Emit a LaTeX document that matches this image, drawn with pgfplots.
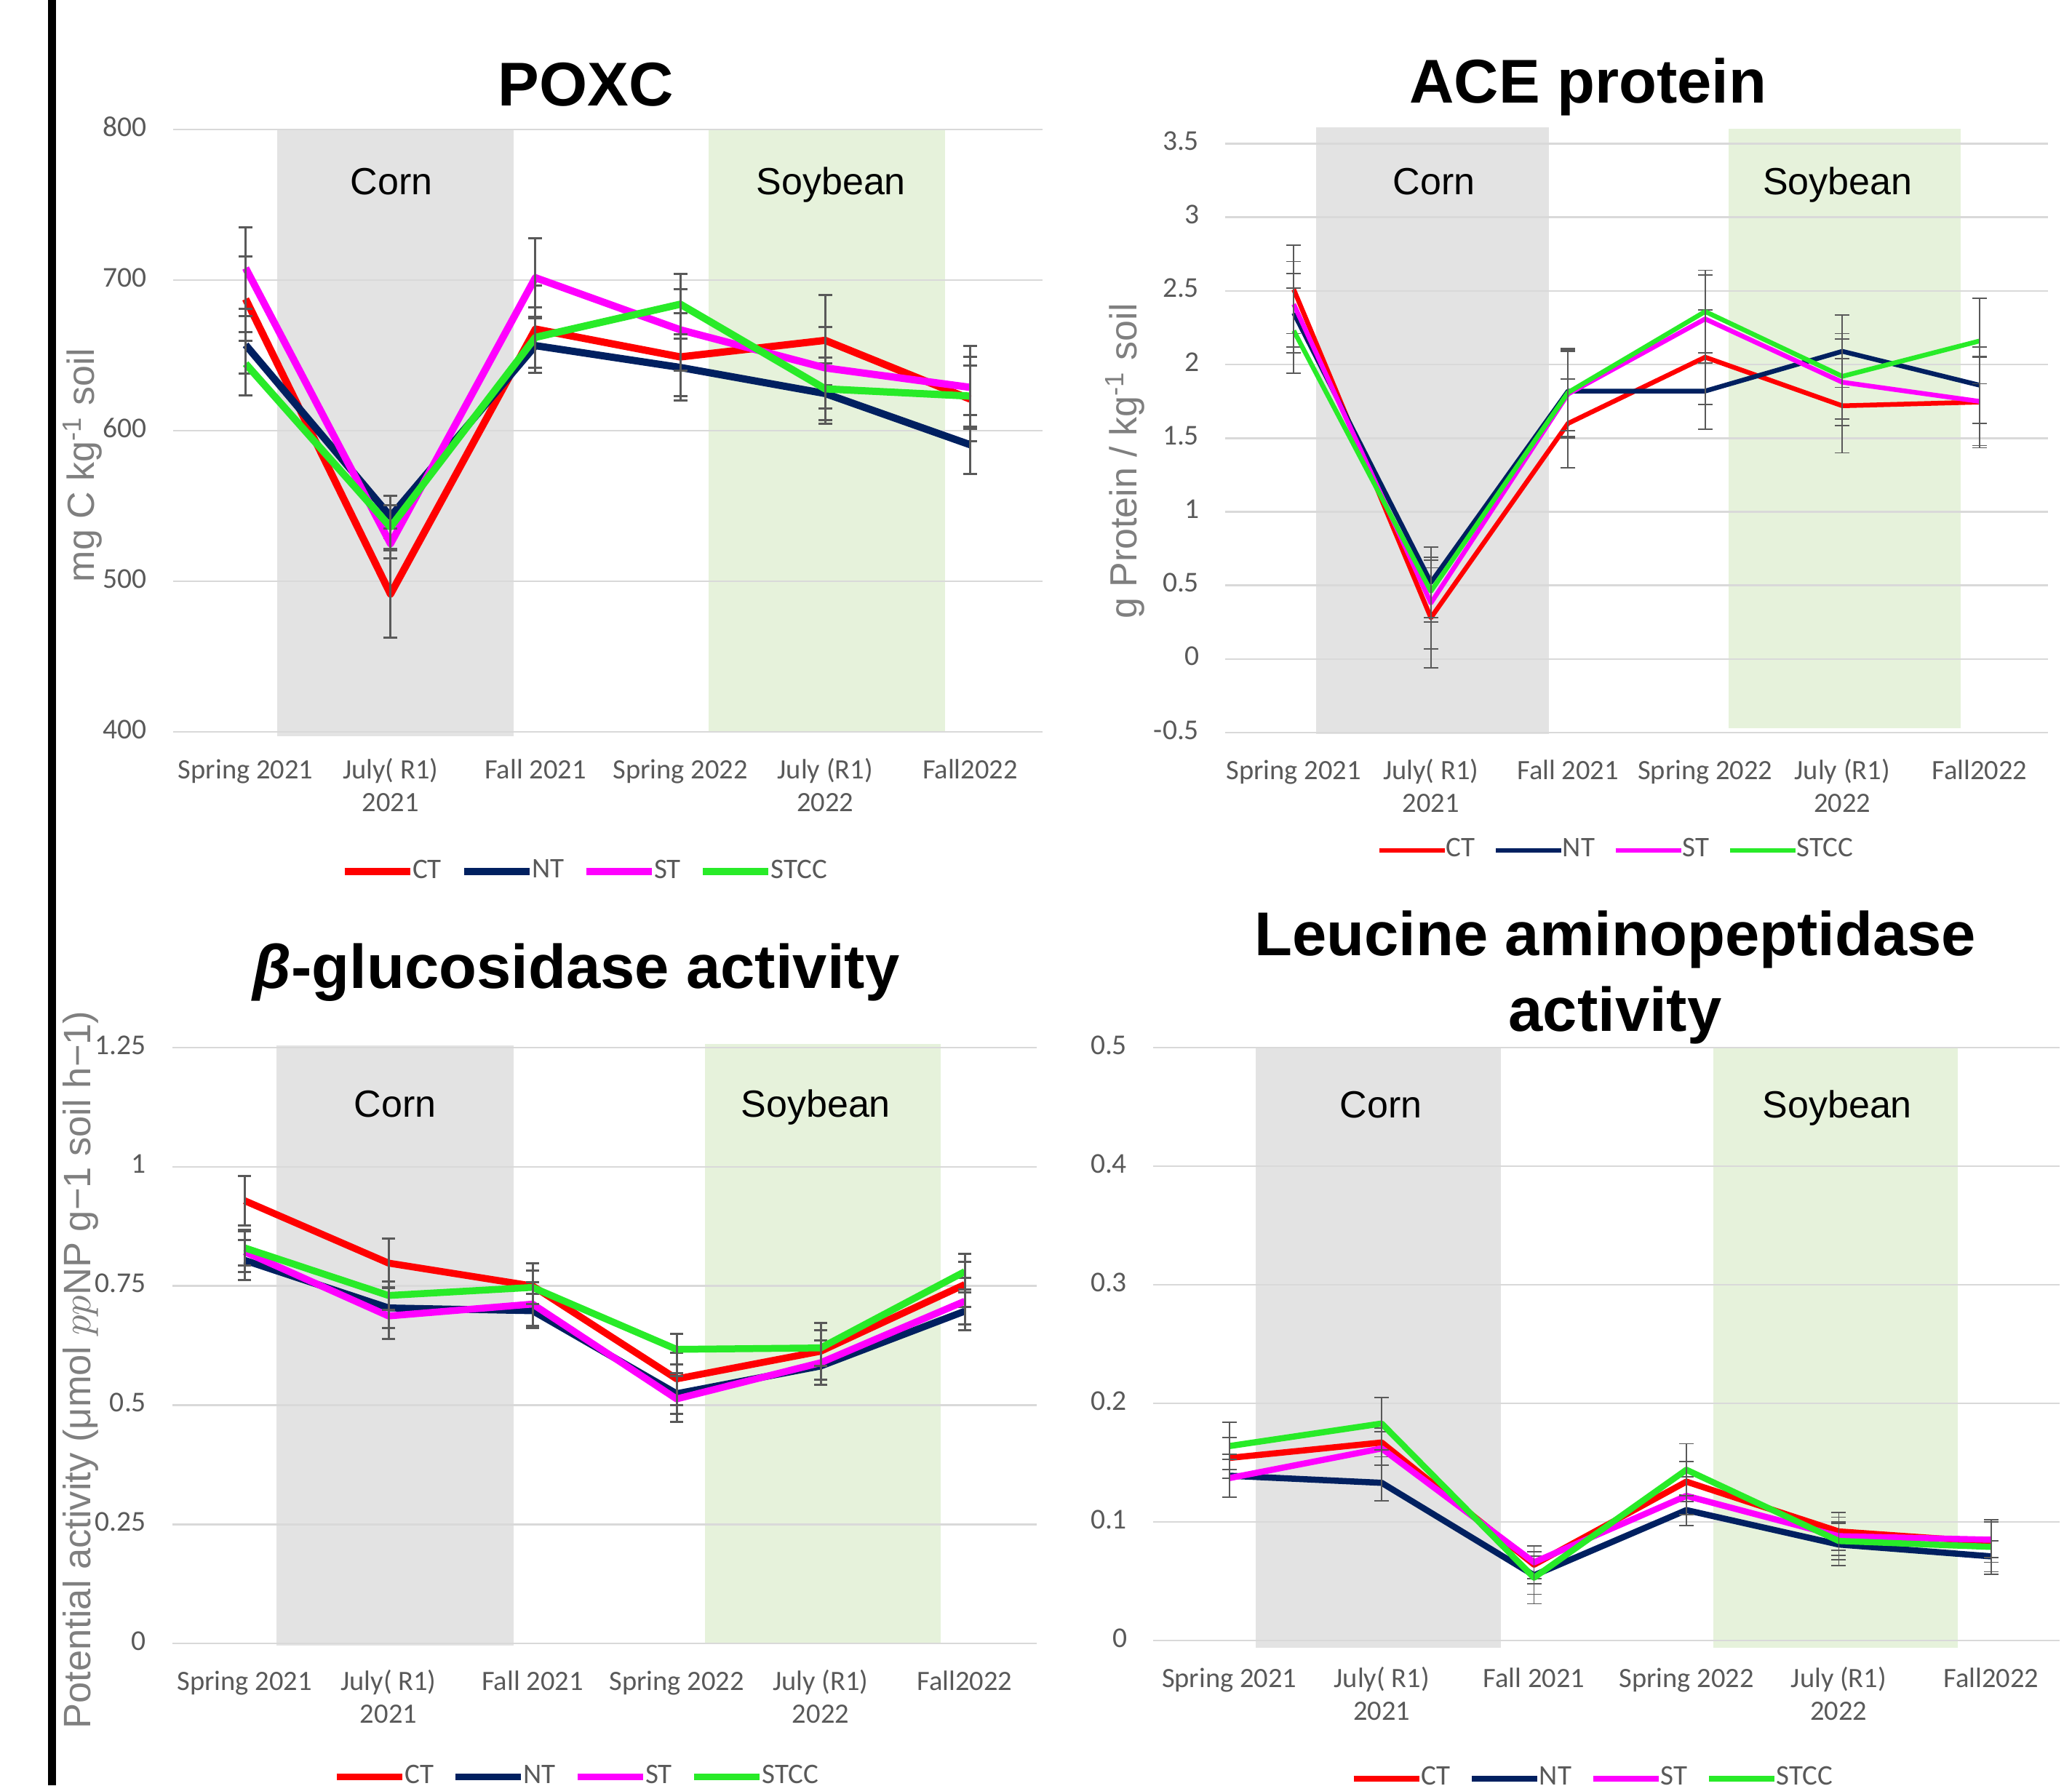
\documentclass[border=0pt]{standalone}
\usepackage{fontspec}
\setmainfont{Liberation Sans}
\newfontfamily\carlito{Carlito}
\usepackage{pgfplots}
\usepackage{pgfplotstable}
\pgfplotsset{compat=1.18}

\definecolor{cCT}{RGB}{255,0,0}
\definecolor{cNT}{RGB}{0,32,96}
\definecolor{cST}{RGB}{255,0,255}
\definecolor{cSTCC}{RGB}{40,235,40}
\definecolor{ebgray}{RGB}{89,89,89}
\definecolor{tickgray}{RGB}{89,89,89}
\definecolor{labgray}{RGB}{127,127,127}
\definecolor{gridgray}{RGB}{217,217,217}
\definecolor{corngray}{RGB}{227,227,227}
\definecolor{soygreen}{RGB}{230,242,219}

\pgfplotstableread{
x CT eCT NT eNT ST eST STCC eSTCC
0 687.5 28 657 19 708 27 644.5 21
1 491.5 29 543 14 525 10 536 14.5
2 667.5 29 656.5 18 701.6 26 662 20
3 649 29 642 19 667 27 684 20
4 660 30 624.7 20 641.7 27 627.8 21
5 621 28 590.7 19.6 628.8 27.7 623 20.4
}\poxc

\pgfplotstableread{
x CT eCT NT eNT ST eST STCC eSTCC
0 2.51 0.30 2.35 0.27 2.41 0.29 2.23 0.29
1 0.28 0.34 0.52 0.24 0.38 0.31 0.46 0.21
2 1.60 0.30 1.82 0.27 1.80 0.30 1.81 0.30
3 2.05 0.32 1.82 0.26 2.31 0.30 2.36 0.28
4 1.72 0.32 2.09 0.245 1.88 0.295 1.92 0.29
5 1.745 0.31 1.86 0.26 1.75 0.30 2.16 0.29
}\ace

\pgfplotstableread{
x CT eCT NT eNT ST eST STCC eSTCC
0 0.929 0.052 0.804 0.042 0.822 0.043 0.830 0.037
1 0.798 0.051 0.704 0.042 0.687 0.048 0.730 0.030
2 0.750 0.048 0.698 0.036 0.712 0.046 0.747 0.035
3 0.555 0.055 0.524 0.043 0.513 0.048 0.617 0.032
4 0.613 0.060 0.582 0.040 0.589 0.047 0.620 0.037
5 0.753 0.047 0.697 0.040 0.718 0.049 0.780 0.037
}\bglu

\pgfplotstableread{
x CT eCT NT eNT ST eST STCC eSTCC
0 0.154 0.017 0.139 0.018 0.137 0.016 0.164 0.020
1 0.167 0.012 0.133 0.015 0.162 0.014 0.183 0.022
2 0.064 0.016 0.055 0.016 0.066 0.014 0.053 0.022
3 0.134 0.017 0.110 0.013 0.122 0.016 0.144 0.022
4 0.092 0.016 0.081 0.018 0.088 0.016 0.084 0.016
5 0.083 0.017 0.071 0.013 0.085 0.015 0.079 0.023
}\lap

\pgfplotsset{
  panel/.style={
    scale only axis, clip=false,
    xmin=-0.5, xmax=5.5,
    axis line style={draw=none},
    major tick style={draw=none}, minor tick style={draw=none},
    xtick={0,...,5},
    xticklabels={{Spring 2021},{July( R1)\\2021},{Fall 2021},{Spring 2022},{July (R1)\\2022},{Fall2022}},
    typeset ticklabels with strut,
    xticklabel style={align=center, font=\carlito\fontsize{7.7}{9}\selectfont, text=tickgray, inner sep=0pt, anchor=north, yshift=-6.4pt},
    yticklabel style={font=\carlito\fontsize{7.9}{9}\selectfont, text=tickgray, inner sep=0pt, anchor=east, xshift=-7pt},
    legend style={draw=none, fill=none, font=\carlito\fontsize{7.8}{9}\selectfont, text=tickgray, legend columns=4, anchor=center,
      /tikz/every odd column/.append style={column sep=-0.9pt},
      /tikz/every even column/.append style={column sep=4.5pt}, nodes={inner sep=0.6pt}},
    legend image code/.code={\draw[##1] (0pt,0pt) -- (18pt,0pt);},
    every axis plot/.append style={no markers, line join=round},
  },
  eb/.style 2 args={error bars/.cd, y dir=both, y explicit, error bar style={ebgray, line width=#1},
    error mark=-, error mark options={ebgray, rotate=90, line width=#1, mark size=#2}},
}
\newcommand{\gridat}[2]{\draw[gridgray, line width=0.5pt] (axis cs:-0.5,#1) -- (axis cs:#2,#1);}
\newcommand{\cornfont}{\fontsize{10.4}{12}\selectfont}
\newcommand{\titlefont}{\fontsize{17}{20}\selectfont\bfseries}

\begin{document}
\begin{tikzpicture}
\useasboundingbox (0pt,0pt) rectangle (569.6pt,-490.8pt);
\fill[black] (13.2pt,0pt) rectangle (15.3pt,-490.8pt);

% ---------------- POXC
\begin{axis}[panel, at={(47.6pt,-201.2pt)}, anchor=south west, width=239pt, height=165.6pt,
  ymin=400, ymax=800, ytick={400,500,600,700,800}, yticklabels={400,500,600,700,800},
  legend style={at={(0.474,-0.232)}},
  every axis plot/.append style={line width=2pt}]
\fill[corngray] (axis cs:0.22,397) rectangle (axis cs:1.852,800);
\fill[soygreen] (axis cs:3.196,400) rectangle (axis cs:4.828,800);
\pgfplotsinvokeforeach{400,500,600,700,800}{\gridat{#1}{5.5}}
\node[font=\cornfont, anchor=base] at (axis cs:1.008,756.8) {Corn};
\node[font=\cornfont, anchor=base] at (axis cs:4.04,756.8) {Soybean};
\addplot[cCT, eb={0.6pt}{1.9pt}] table[x=x,y=CT,y error=eCT]{\poxc}; \addlegendentry{CT}
\addplot[cNT, eb={0.6pt}{1.9pt}] table[x=x,y=NT,y error=eNT]{\poxc}; \addlegendentry{NT}
\addplot[cST, eb={0.6pt}{1.9pt}] table[x=x,y=ST,y error=eST]{\poxc}; \addlegendentry{ST}
\addplot[cSTCC, eb={0.6pt}{1.9pt}] table[x=x,y=STCC,y error=eSTCC]{\poxc}; \addlegendentry{STCC}
\end{axis}

% ---------------- ACE protein
\begin{axis}[panel, at={(336.8pt,-201.4pt)}, anchor=south west, width=226.2pt, height=161.9pt,
  ymin=-0.5, ymax=3.5, ytick={-0.5,0,0.5,1,1.5,2,2.5,3,3.5},
  yticklabels={-0.5,0,0.5,1,1.5,2,2.5,3,3.5},
  legend style={at={(0.475,-0.2)}},
  every axis plot/.append style={line width=1.3pt}]
\fill[corngray] (axis cs:0.162,-0.51) rectangle (axis cs:1.858,3.61);
\fill[soygreen] (axis cs:3.169,-0.47) rectangle (axis cs:4.865,3.60);
\pgfplotsinvokeforeach{-0.5,0,0.5,1,1.5,2,2.5,3,3.5}{\gridat{#1}{5.5}}
\node[font=\cornfont, anchor=base] at (axis cs:1.022,3.155) {Corn};
\node[font=\cornfont, anchor=base] at (axis cs:3.966,3.155) {Soybean};
\addplot[cCT, eb={0.35pt}{2pt}] table[x=x,y=CT,y error=eCT]{\ace}; \addlegendentry{CT}
\addplot[cNT, eb={0.35pt}{2pt}] table[x=x,y=NT,y error=eNT]{\ace}; \addlegendentry{NT}
\addplot[cST, eb={0.35pt}{2pt}] table[x=x,y=ST,y error=eST]{\ace}; \addlegendentry{ST}
\addplot[cSTCC, eb={0.35pt}{2pt}] table[x=x,y=STCC,y error=eSTCC]{\ace}; \addlegendentry{STCC}
\end{axis}

% ---------------- beta-glucosidase
\begin{axis}[panel, at={(47.4pt,-451.8pt)}, anchor=south west, width=237.6pt, height=163.8pt,
  ymin=0, ymax=1.25, ytick={0,0.25,0.5,0.75,1,1.25},
  yticklabels={0,0.25,0.5,0.75,1,1.25},
  legend style={at={(0.468,-0.224)}},
  every axis plot/.append style={line width=1.9pt}]
\fill[corngray] (axis cs:0.22,-0.004) rectangle (axis cs:1.869,1.255);
\fill[soygreen] (axis cs:3.196,0) rectangle (axis cs:4.831,1.258);
\pgfplotsinvokeforeach{0,0.25,0.5,0.75,1,1.25}{\gridat{#1}{5.5}}
\node[font=\cornfont, anchor=base] at (axis cs:1.046,1.104) {Corn};
\node[font=\cornfont, anchor=base] at (axis cs:3.966,1.104) {Soybean};
\addplot[cCT, eb={0.6pt}{1.8pt}] table[x=x,y=CT,y error=eCT]{\bglu}; \addlegendentry{CT}
\addplot[cNT, eb={0.6pt}{1.8pt}] table[x=x,y=NT,y error=eNT]{\bglu}; \addlegendentry{NT}
\addplot[cST, eb={0.6pt}{1.8pt}] table[x=x,y=ST,y error=eST]{\bglu}; \addlegendentry{ST}
\addplot[cSTCC, eb={0.6pt}{1.8pt}] table[x=x,y=STCC,y error=eSTCC]{\bglu}; \addlegendentry{STCC}
\end{axis}

% ---------------- Leucine aminopeptidase
\begin{axis}[panel, at={(317pt,-451pt)}, anchor=south west, width=249.2pt, height=163pt,
  xmax=5.45,
  ymin=0, ymax=0.5, ytick={0,0.1,0.2,0.3,0.4,0.5},
  yticklabels={0,0.1,0.2,0.3,0.4,0.5},
  legend style={at={(0.485,-0.233)}},
  every axis plot/.append style={line width=1.7pt}]
\fill[corngray] (axis cs:0.171,-0.006) rectangle (axis cs:1.784,0.5);
\fill[soygreen] (axis cs:3.175,-0.006) rectangle (axis cs:4.78,0.5);
\pgfplotsinvokeforeach{0,0.1,0.2,0.3,0.4,0.5}{\gridat{#1}{5.45}}
\node[font=\cornfont, anchor=base] at (axis cs:0.996,0.4408) {Corn};
\node[font=\cornfont, anchor=base] at (axis cs:3.99,0.4408) {Soybean};
\addplot[cCT, eb={0.35pt}{2pt}] table[x=x,y=CT,y error=eCT]{\lap}; \addlegendentry{CT}
\addplot[cNT, eb={0.35pt}{2pt}] table[x=x,y=NT,y error=eNT]{\lap}; \addlegendentry{NT}
\addplot[cST, eb={0.35pt}{2pt}] table[x=x,y=ST,y error=eST]{\lap}; \addlegendentry{ST}
\addplot[cSTCC, eb={0.35pt}{2pt}] table[x=x,y=STCC,y error=eSTCC]{\lap}; \addlegendentry{STCC}
\end{axis}

% ---------------- titles and y labels
\node[font=\titlefont, anchor=base] at (161pt,-29pt) {POXC};
\node[font=\titlefont, anchor=base] at (436.6pt,-28.3pt) {ACE protein};
\node[font=\titlefont, anchor=base] at (158.4pt,-271.6pt) {{\itshape β}-glucosidase activity};
\node[font=\titlefont, anchor=base] at (444pt,-262.6pt) {Leucine aminopeptidase};
\node[font=\titlefont, anchor=base] at (444pt,-283.4pt) {activity};

\node[rotate=90, font=\fontsize{10.4}{12}\selectfont, text=labgray] at (22.6pt,-127.9pt) {mg C kg\textsuperscript{-1} soil};
\node[rotate=90, font=\fontsize{10.4}{12}\selectfont, text=labgray] at (309.2pt,-126.8pt) {g Protein / kg\textsuperscript{-1} soil};
\node[rotate=90, font=\fontsize{10.5}{12}\selectfont, text=labgray] at (22.2pt,-376.6pt) {Potential activity (μmol $pp$NP g−1 soil h−1)};
\end{tikzpicture}
\end{document}
